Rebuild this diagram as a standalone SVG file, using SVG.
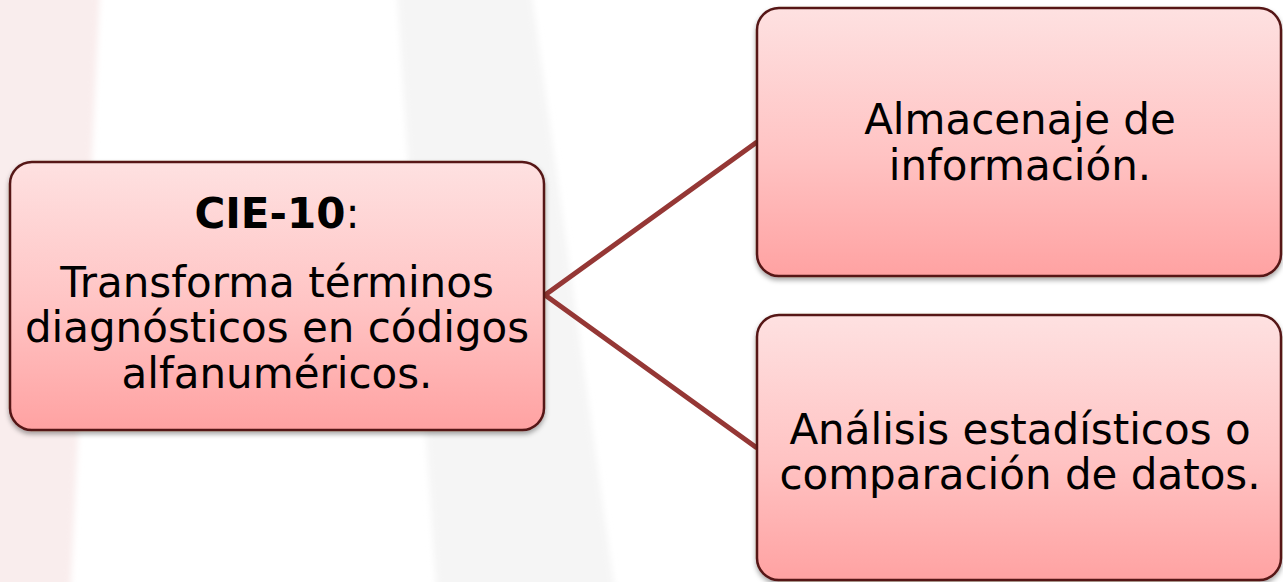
<svg xmlns="http://www.w3.org/2000/svg" width="1283" height="582" viewBox="0 0 1283 582">
<style>
.box{fill:url(#boxGrad);stroke:#561817;stroke-width:2.5;filter:url(#shadow)}
.t{font-family:"DejaVu Sans","Verdana",sans-serif;font-size:42px;fill:#000;text-anchor:middle}
.b{font-weight:bold}
.conn{fill:none;stroke:#953735;stroke-width:5;stroke-linejoin:miter}
</style>
<defs>
<linearGradient id="boxGrad" x1="0" y1="0" x2="0" y2="1">
<stop offset="0" stop-color="#fee1e1"/>
<stop offset="0.55" stop-color="#ffc3c3"/>
<stop offset="1" stop-color="#ffa2a2"/>
</linearGradient>
<filter id="shadow" x="-5%" y="-5%" width="110%" height="115%">
<feDropShadow dx="0" dy="3" stdDeviation="2.5" flood-color="#000" flood-opacity="0.35"/>
</filter>
<filter id="soft"><feGaussianBlur stdDeviation="3"/></filter>
</defs>
<rect x="0" y="0" width="1283" height="582" fill="#ffffff"/>
<g id="background" filter="url(#soft)">
<polygon points="-10,-10 100,-10 70,600 -10,600" fill="#f9eded"/>
<polygon points="397,-10 531,-10 616,600 437,600" fill="#f5f5f5"/>
</g>
<g id="connectors">
<path class="conn" d="M757,142 L545,295 L757,448"/>
</g>
<g id="node-cie10">
<rect class="box" x="10" y="162" width="534" height="268" rx="22"/>
<text class="t" x="277" y="228"><tspan class="b">CIE-10</tspan>:</text>
<text class="t" x="277" y="297">Transforma términos</text>
<text class="t" x="277" y="342">diagnósticos en códigos</text>
<text class="t" x="277" y="388">alfanuméricos.</text>
</g>
<g id="node-almacenaje">
<rect class="box" x="757" y="8" width="524" height="268" rx="22"/>
<text class="t" x="1020" y="134">Almacenaje de</text>
<text class="t" x="1020" y="180">información.</text>
</g>
<g id="node-analisis">
<rect class="box" x="757" y="315" width="524" height="265" rx="22"/>
<text class="t" x="1020" y="444">Análisis estadísticos o</text>
<text class="t" x="1020" y="489">comparación de datos.</text>
</g>
</svg>
